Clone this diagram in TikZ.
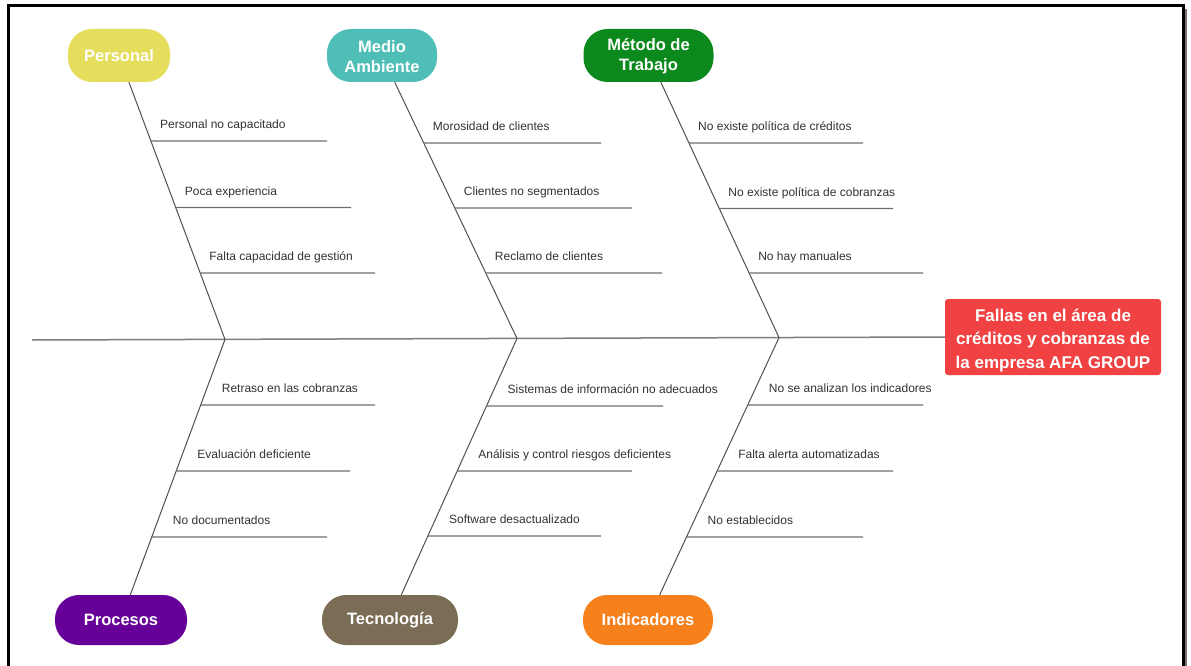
\documentclass[tikz,border=0pt]{standalone}
\usepackage{fontspec}
\setmainfont{Liberation Sans}
\usetikzlibrary{calc}
\definecolor{cPers}{RGB}{228,222,92}
\definecolor{cMed}{RGB}{78,190,183}
\definecolor{cMet}{RGB}{12,137,28}
\definecolor{cProc}{RGB}{102,0,153}
\definecolor{cTec}{RGB}{123,109,85}
\definecolor{cInd}{RGB}{246,128,28}
\definecolor{cEff}{RGB}{240,66,66}
\definecolor{cTxt}{RGB}{50,50,50}
\definecolor{cBone}{RGB}{80,80,80}
\definecolor{cSub}{RGB}{110,110,110}
\definecolor{cSpine}{RGB}{125,125,125}
\begin{document}
\begin{tikzpicture}[x=1pt,y=-1pt,
  cat/.style={rounded corners=24pt, text=white, font=\bfseries\fontsize{16.5}{20}\selectfont, align=center, inner sep=0pt},
  topcat/.style={cat, minimum height=53pt},
  botcat/.style={cat, minimum height=50pt},
  effect/.style={fill=cEff, rounded corners=3pt, text=white, font=\bfseries\fontsize{17}{23.5}\selectfont, align=center, minimum width=216pt, minimum height=76pt, inner sep=0pt},
  bone/.style={draw=cBone, line width=1pt},
  spine/.style={draw=cSpine, line width=1.5pt},
  subline/.style={draw=cSub, line width=1.2pt},
  lbl/.style={text=cTxt, font=\fontsize{12}{14}\selectfont, inner sep=0pt, anchor=base west}]
\useasboundingbox (0,0) rectangle (1191,666);
% frame
\draw[line width=3pt] (8.5,5.5) rectangle (1183,675);
\draw[black!55, line width=2pt] (1186,9) -- (1186,675);

% category nodes
\node[topcat, fill=cPers, minimum width=102pt] (personal) at (119,55.5) {Personal};
\node[topcat, fill=cMed, minimum width=110pt] (medio) at (382,55.5) {\rule{0pt}{14pt}Medio\\Ambiente};
\node[topcat, fill=cMet, minimum width=130pt] (metodo) at (648.5,55.5) {\rule{0pt}{14pt}Método de\\Trabajo};
\node[botcat, fill=cProc, minimum width=132pt] (procesos) at (121,620) {Procesos};
\node[botcat, fill=cTec, minimum width=136pt] (tecno) at (390,620) {Tecnología};
\node[botcat, fill=cInd, minimum width=130pt] (indic) at (648,620) {Indicadores};

% effect
\node[effect] (eff) at (1053,337) {\rule{0pt}{19pt}Fallas en el área de\\créditos y cobranzas de\\la empresa AFA GROUP};

% spine
\coordinate (tail) at (32,340);
\coordinate (j1) at (225,339.4);
\coordinate (j2) at (517,338.4);
\coordinate (j3) at (779,337.6);
\draw[spine] (tail) -- (eff.west);

% bones
\draw[bone] (personal) -- (j1);
\draw[bone] (medio) -- (j2);
\draw[bone] (metodo) -- (j3);
\draw[bone] (procesos) -- (j1);
\draw[bone] (tecno) -- (j2);
\draw[bone] (indic) -- (j3);

% top sub-causes
\foreach \c/\jn/\f/\yy/\xe/\t [count=\i] in {
  personal/j1/0.3012/141/327/Personal no capacitado,
  personal/j1/0.5354/207.5/351/Poca experiencia,
  personal/j1/0.7661/273/375/Falta capacidad de gestión,
  medio/j2/0.3093/143/601/Morosidad de clientes,
  medio/j2/0.5391/208/632/Clientes no segmentados,
  medio/j2/0.7688/273/662/Reclamo de clientes,
  metodo/j3/0.3102/143/863/No existe política de créditos,
  metodo/j3/0.5424/208.5/893/No existe política de cobranzas,
  metodo/j3/0.7710/273/923/No hay manuales}
{
  \coordinate (t\i a) at ($(\c)!\f!(\jn)$);
  \coordinate (t\i b) at (\xe,\yy);
  \draw[subline] (t\i a) -- (t\i b);
  \node[lbl] (t\i l) at ($(t\i a)+(9,-12.5)$) {\t};
}

% bottom sub-causes
\foreach \c/\jn/\f/\yy/\xe/\t [count=\i] in {
  procesos/j1/0.2338/405/375/Retraso en las cobranzas,
  procesos/j1/0.4690/471/350/Evaluación deficiente,
  procesos/j1/0.7042/537/327/No documentados,
  tecno/j2/0.2401/406/663/Sistemas de información no adecuados,
  tecno/j2/0.4709/471/632/Análisis y control riesgos deficientes,
  tecno/j2/0.7017/536/601/Software desactualizado,
  indic/j3/0.2387/405/923/No se analizan los indicadores,
  indic/j3/0.4724/471/893/Falta alerta automatizadas,
  indic/j3/0.7061/537/863/No establecidos}
{
  \coordinate (b\i a) at ($(\jn)!\f!(\c)$);
  \coordinate (b\i b) at (\xe,\yy);
  \draw[subline] (b\i a) -- (b\i b);
  \node[lbl] (b\i l) at ($(b\i a)+(21,-12.5)$) {\t};
}
\end{tikzpicture}
\end{document}
